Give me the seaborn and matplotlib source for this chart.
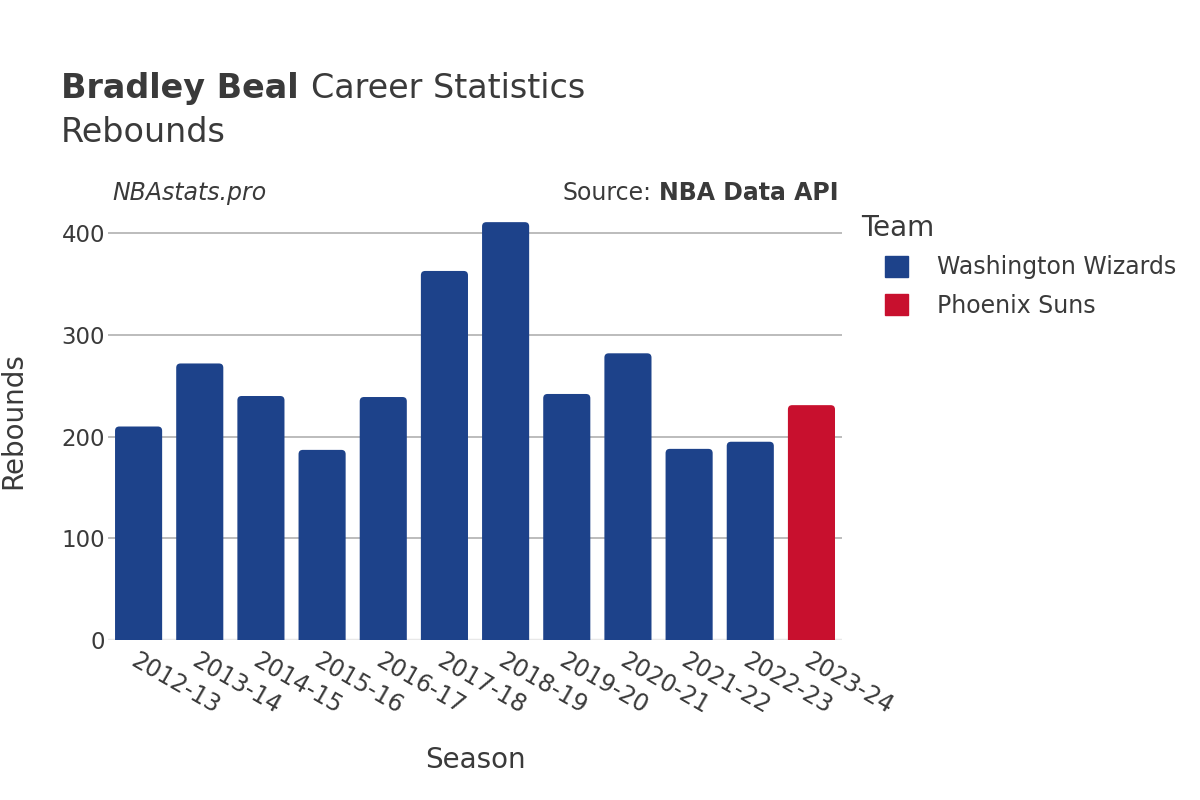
import pandas as pd
import matplotlib.pyplot as plt
import seaborn as sns
from matplotlib.patches import FancyBboxPatch

# data
seasons = ["2012-13", "2013-14", "2014-15", "2015-16", "2016-17", "2017-18",
           "2018-19", "2019-20", "2020-21", "2021-22", "2022-23", "2023-24"]
rebounds = [210, 272, 240, 187, 239, 363, 411, 242, 282, 188, 195, 231]
teams = ["Washington Wizards"] * 11 + ["Phoenix Suns"]
team_colors = {"Washington Wizards": "#1D428A", "Phoenix Suns": "#C8102E"}

df = pd.DataFrame({"Season": seasons, "Rebounds": rebounds, "Team": teams})

sns.set_theme(style="white")
plt.rcParams["font.family"] = ["DejaVu Sans"]
text_color = "#3a3a3a"

fig = plt.figure(figsize=(12, 8), dpi=100)
ax = fig.add_axes([0.09, 0.2, 0.6117, 0.549])

sns.barplot(data=df, x="Season", y="Rebounds", hue="Team", order=seasons,
            palette=team_colors, dodge=False, width=0.77, ax=ax,
            saturation=1, legend=False, zorder=3)

ax.set_ylim(0, 432)
ax.set_xlim(-0.5, len(seasons) - 0.5)

# swap the plain bars for ones with rounded top corners
px_x = ax.get_window_extent().width / 12.0
px_y = ax.get_window_extent().height / 432.0
for p in list(ax.patches):
    x, w, h = p.get_x(), p.get_width(), p.get_height()
    if h <= 0:
        p.remove()
        continue
    rb = FancyBboxPatch((x, -20), w, h + 20,
                        boxstyle="round,pad=0,rounding_size=0.07",
                        mutation_aspect=px_x / px_y,
                        facecolor=p.get_facecolor(), edgecolor="none", zorder=3)
    p.remove()
    ax.add_patch(rb)

ax.set_yticks([0, 100, 200, 300, 400])
ax.yaxis.grid(True, color="#b0b0b0", linewidth=1.2, zorder=0)
ax.axhline(0, color="#e8e8e8", linewidth=2.5, zorder=2)
for s in ax.spines.values():
    s.set_visible(False)

ax.tick_params(axis="both", length=0, labelsize=16.5, colors=text_color)
ax.tick_params(axis="y", pad=2)
ax.tick_params(axis="x", pad=6)
plt.setp(ax.get_xticklabels(), rotation=-30, ha="left", rotation_mode="anchor",
         fontsize=17)

ax.set_xlabel("Season", fontsize=20, color=text_color, labelpad=20)
ax.set_ylabel("Rebounds", fontsize=20, color=text_color)
ax.yaxis.set_label_coords(-0.110, 0.5)

# titles
renderer = fig.canvas.get_renderer()
t1 = fig.text(0.051, 0.877, "Bradley Beal", fontsize=24, fontweight="bold",
              color=text_color, va="baseline")
bb = t1.get_window_extent(renderer)
fig.text((bb.x1 + 12) / 1200, 0.877, "Career Statistics", fontsize=24,
         color=text_color, va="baseline")
fig.text(0.051, 0.822, "Rebounds", fontsize=24, color=text_color, va="baseline")

fig.text(0.094, 0.7495, "NBAstats.pro", fontsize=17, style="italic",
         color=text_color, va="baseline")
t2 = fig.text(0.6985, 0.7495, "NBA Data API", fontsize=17, fontweight="bold",
              color=text_color, va="baseline", ha="right")
bb = t2.get_window_extent(renderer)
fig.text((bb.x0 - 7) / 1200, 0.7495, "Source:", fontsize=17, color=text_color,
         va="baseline", ha="right")

# legend: title as plain text, entries indented below it
fig.text(861 / 1200, 1 - 228 / 800, "Team", fontsize=20, color=text_color,
         va="center", ha="left")
handles = [FancyBboxPatch((0, 0), 1, 1, boxstyle="round,pad=0,rounding_size=0.25",
                          color=team_colors[t]) for t in team_colors]
leg = fig.legend(handles, list(team_colors), loc="center left",
                 bbox_to_anchor=(885 / 1200, 1 - 286.5 / 800), frameon=False,
                 fontsize=17, handlelength=0.97, handleheight=0.97,
                 handletextpad=1.23, labelspacing=0.6, borderaxespad=0,
                 borderpad=0)
for t in leg.get_texts():
    t.set_color(text_color)

fig.savefig("out.png", dpi=100)
